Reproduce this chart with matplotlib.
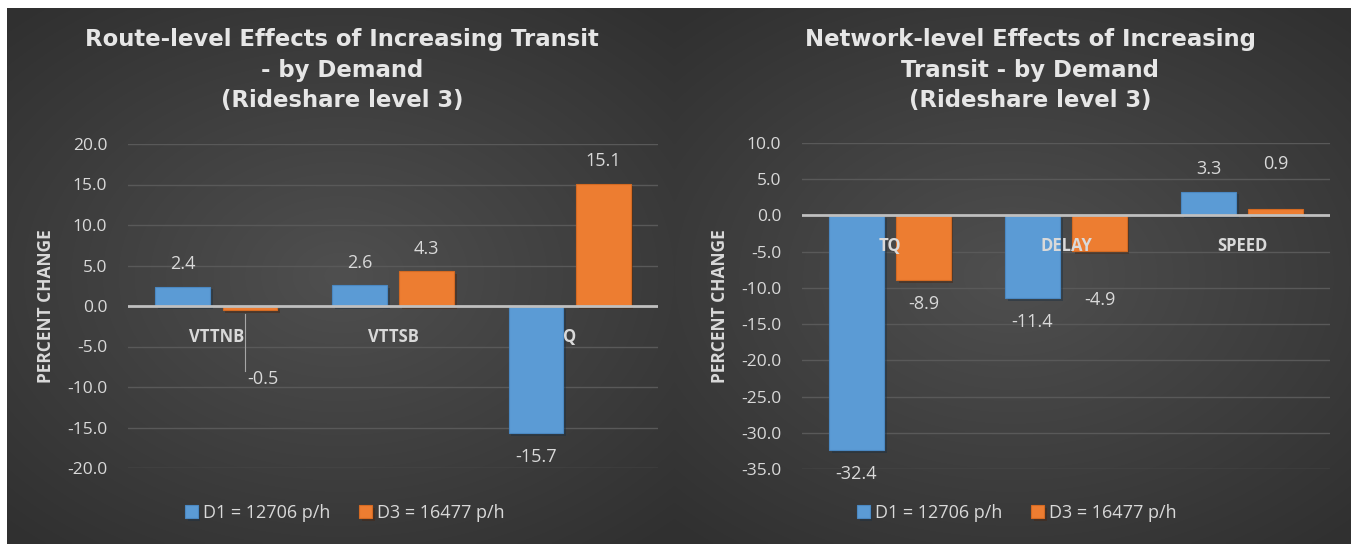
import numpy as np
import matplotlib
matplotlib.use("Agg")
import matplotlib.pyplot as plt
from matplotlib import patheffects as pe

# route-level results
route_cats = ["VTTNB", "VTTSB", "Q"]
route_d1 = [2.4, 2.6, -15.7]
route_d3 = [-0.5, 4.3, 15.1]

# network-level results
net_cats = ["TQ", "DELAY", "SPEED"]
net_d1 = [-32.4, -11.4, 3.3]
net_d3 = [-8.9, -4.9, 0.9]

series_names = ["D1 = 12706 p/h", "D3 = 16477 p/h"]

BLUE = "#5b9bd5"
ORANGE = "#ed7d31"
TXT = "#d9d9d9"
FONT = "Open Sans"

W, H = 1351, 544
fig = plt.figure(figsize=(W / 100, H / 100), dpi=100)
fig.patch.set_facecolor("white")


def panel_bg(x0, y0, x1, y1):
    # dark panel with a soft lighter centre
    bg = fig.add_axes([x0 / W, 1 - y1 / H, (x1 - x0) / W, (y1 - y0) / H], zorder=-5)
    yy, xx = np.mgrid[-1:1:200j, -1:1:300j]
    r = np.sqrt(xx ** 2 * 0.8 + yy ** 2)
    v = 0.31 - 0.12 * np.clip(r / 1.3, 0, 1)
    img = np.dstack([v, v, v])
    bg.imshow(img, aspect="auto", extent=[0, 1, 0, 1], interpolation="bilinear")
    bg.set_axis_off()


panel_bg(7, 8, 674, 544)
panel_bg(674, 8, 1351, 544)


def bar_panel(rect, cats, d1, d3, ylim, title, title_x, nudges, leg_x):
    ax = fig.add_axes(rect)
    ax.set_facecolor("none")
    x = np.arange(len(cats))
    w = 0.31
    shadow = [pe.SimplePatchShadow(offset=(2, -2), alpha=0.45), pe.Normal()]
    b1 = ax.bar(x - 0.19, d1, w, color=BLUE, edgecolor="#4a88c2", lw=0.8,
                label=series_names[0], zorder=3)
    b2 = ax.bar(x + 0.19, d3, w, color=ORANGE, edgecolor="#d46a22", lw=0.8,
                label=series_names[1], zorder=3)
    for b in list(b1) + list(b2):
        b.set_path_effects(shadow)

    ax.set_xlim(-0.5, len(cats) - 0.5)
    ax.set_ylim(*ylim)
    ax.set_yticks(np.arange(ylim[0], ylim[1] + 0.1, 5))
    ax.yaxis.set_major_formatter(plt.FormatStrFormatter("%.1f"))
    ax.set_xticks([])
    ax.tick_params(axis="y", length=0, pad=15, labelcolor=TXT, labelsize=12.5)
    for t in ax.get_yticklabels():
        t.set_fontfamily(FONT)
    ax.grid(axis="y", color="#595959", lw=1, zorder=0)
    for s in ax.spines.values():
        s.set_visible(False)
    ax.axhline(0, color="#bfbfbf", lw=2, zorder=4)
    ax.set_ylabel("PERCENT CHANGE", color=TXT, fontsize=12.5, fontweight="bold",
                  fontfamily=FONT, labelpad=8.5)

    # category names sit just under the zero line
    for i, c in enumerate(cats):
        ax.annotate(c, (i, 0), xytext=(0, -22), textcoords="offset points",
                    ha="center", va="center", color=TXT, fontsize=12,
                    fontweight="bold", fontfamily=FONT, zorder=5)

    # value labels outside the bar ends
    for key, bars, vals in (("d1", b1, d1), ("d3", b2, d3)):
        for i, (b, v) in enumerate(zip(bars, vals)):
            dx, dy = nudges.get((key, i), (0, 0))
            off = 16 if v >= 0 else -17
            ax.annotate(f"{v:.1f}", (b.get_x() + b.get_width() / 2, v),
                        xytext=(dx, off + dy), textcoords="offset points",
                        ha="center", va="center", color=TXT, fontsize=13,
                        fontfamily=FONT, zorder=5)

    fig.text(title_x / W, 1 - 70 / H, title, ha="center", va="center", color="#e6e6e6",
             fontsize=16.4, fontweight="bold", fontfamily="DejaVu Sans", linespacing=1.42)

    leg = fig.legend(handles=[b1, b2], labels=series_names, loc="center",
                     bbox_to_anchor=(leg_x / W, 1 - 513 / H), ncol=2, frameon=False,
                     handlelength=0.7, handleheight=0.7, handletextpad=0.3,
                     columnspacing=1.6, prop={"family": FONT, "size": 13})
    for t in leg.get_texts():
        t.set_color(TXT)
    return ax


ax1 = bar_panel([128 / W, 1 - 468 / H, 530 / W, 324 / H], route_cats, route_d1, route_d3,
                (-20, 20),
                "Route-level Effects of Increasing Transit\n- by Demand\n(Rideshare level 3)",
                342, {("d3", 0): (9, -33)}, 345)
# leader line from the small negative bar down to its moved label
ax1.plot([0.16, 0.16], [-1.0, -8.0], color="#a6a6a6", lw=0.8, zorder=4)

ax2 = bar_panel([802 / W, 1 - 469 / H, 528 / W, 326 / H], net_cats, net_d1, net_d3,
                (-35, 10),
                "Network-level Effects of Increasing\nTransit - by Demand\n(Rideshare level 3)",
                1030, {("d3", 2): (0, 16), ("d3", 1): (0, -18)}, 1017)

fig.savefig("out.png", dpi=100, facecolor=fig.get_facecolor())
